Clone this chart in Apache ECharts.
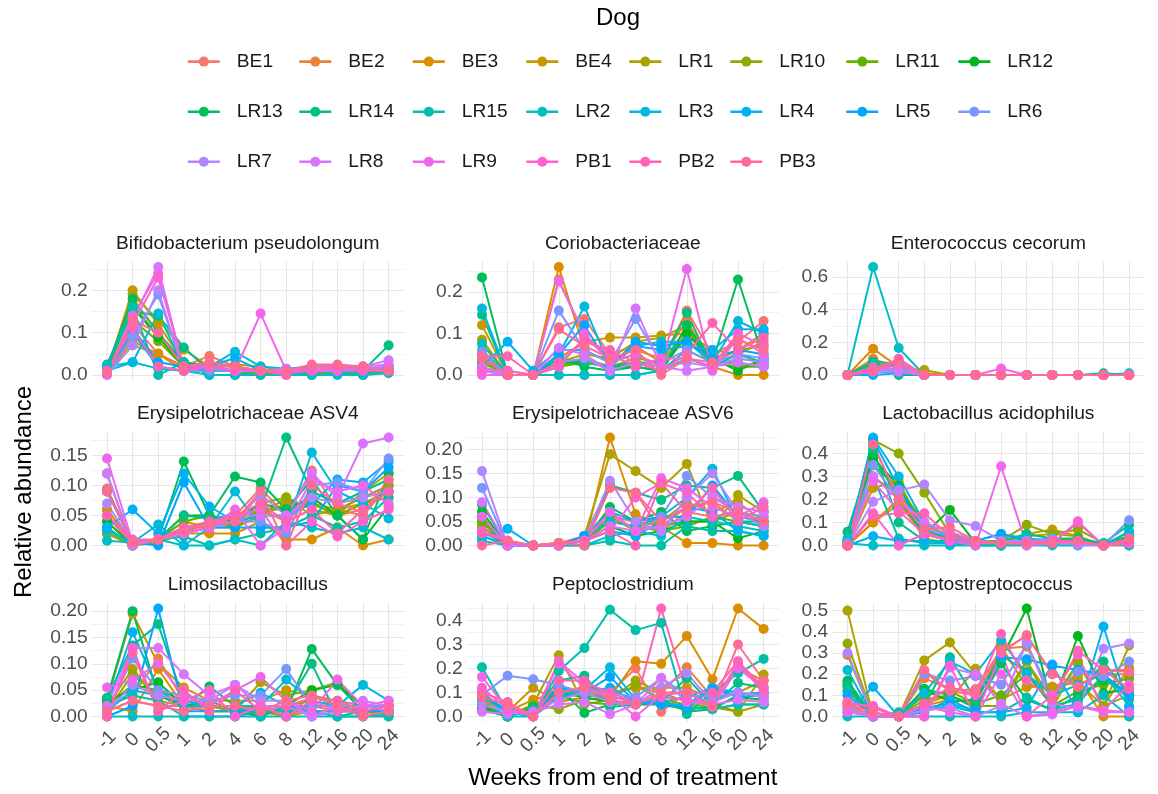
<!DOCTYPE html>
<html>
<head>
<meta charset="utf-8">
<script src="https://cdn.jsdelivr.net/npm/echarts@6/dist/echarts.min.js"></script>
<style>html,body{margin:0;padding:0;background:#fff}#c{width:1158px;height:794px}</style>
</head>
<body>
<div id="c"></div>
<script>
// ---------- data ----------
const categories = ['-1','0','0.5','1','2','4','6','8','12','16','20','24'];
const dogs = ['BE1','BE2','BE3','BE4','LR1','LR10','LR11','LR12','LR13','LR14','LR15','LR2','LR3','LR4','LR5','LR6','LR7','LR8','LR9','PB1','PB2','PB3'];
const facetNames = ['Bifidobacterium pseudolongum','Coriobacteriaceae','Enterococcus cecorum','Erysipelotrichaceae ASV4','Erysipelotrichaceae ASV6','Lactobacillus acidophilus','Limosilactobacillus','Peptoclostridium','Peptostreptococcus'];
const majorSteps = [0.1, 0.1, 0.2, 0.05, 0.05, 0.1, 0.05, 0.1, 0.1];

// rows = dogs (order above), columns = categories
const bifido = [
[0.01,0.12,0.05,0.02,0.045,0.02,0.01,0.01,0.02,0.02,0.01,0.01],
[0.005,0.07,0.05,0.02,0.03,0.02,0.005,0.01,0.01,0.02,0.01,0.01],
[0.005,0.08,0.05,0.01,0.01,0.01,0,0.005,0,0.01,0,0.005],
[0.01,0.2,0.12,0.03,0.02,0.02,0.01,0.01,0.01,0.015,0.01,0.01],
[0.01,0.19,0.13,0.06,0.02,0.025,0.02,0.01,0.01,0.01,0.01,0.01],
[0.01,0.17,0.09,0.03,0.01,0.01,0.01,0.005,0.01,0.01,0.005,0.01],
[0.005,0.13,0.08,0.02,0.01,0.01,0.005,0.005,0.005,0.01,0.005,0.01],
[0.01,0.16,0.09,0.02,0.01,0.01,0.01,0.01,0.01,0.01,0.01,0.01],
[0.02,0.18,0.1,0.03,0.02,0.01,0.01,0.01,0.01,0.01,0.01,0.02],
[0.02,0.15,0.14,0.065,0.01,0.01,0.01,0.01,0.01,0.01,0.01,0.07],
[0.025,0.16,0,0.03,0,0,0.01,0.005,0,0.005,0,0.01],
[0.02,0.03,0.015,0.01,0,0,0,0,0,0,0,0.005],
[0.01,0.03,0.145,0.02,0.02,0.055,0.02,0.015,0.02,0.02,0.015,0.02],
[0.005,0.1,0.02,0.01,0.02,0.04,0.01,0.01,0.01,0.01,0.01,0.02],
[0.005,0.11,0.03,0.02,0.01,0.01,0.01,0.005,0.01,0.01,0.01,0.01],
[0.005,0.09,0.19,0.01,0.01,0.01,0.01,0.01,0.01,0.01,0.01,0.015],
[0,0.07,0.2,0.01,0.02,0.01,0.01,0.01,0.015,0.01,0.02,0.025],
[0,0.13,0.255,0.01,0.02,0.01,0.01,0.015,0.01,0.01,0.02,0.035],
[0.005,0.14,0.24,0.02,0.02,0.01,0.145,0.01,0.01,0.01,0.015,0.02],
[0.005,0.12,0.23,0.02,0.02,0.01,0.01,0.005,0.01,0.02,0.01,0.01],
[0.01,0.11,0.02,0.01,0.02,0.02,0.01,0,0.02,0.02,0.02,0.01],
[0.005,0.13,0.1,0.02,0.03,0.02,0.01,0.01,0.025,0.025,0.02,0.01]
];
const corio = [
[0.05,0,0,0.115,0.135,0.05,0.07,0.03,0.155,0.05,0.08,0.13],
[0.03,0.01,0,0.23,0.09,0.04,0.06,0.04,0.13,0.03,0.06,0.1],
[0.04,0,0,0.26,0.06,0.03,0.05,0.02,0.09,0.02,0,0],
[0.12,0,0,0.04,0.08,0.09,0.09,0.095,0.1,0.06,0.05,0.08],
[0.085,0,0,0.03,0.05,0.04,0.08,0.09,0.12,0.04,0.06,0.07],
[0.06,0,0,0.02,0.04,0.02,0.04,0.03,0.11,0.03,0.02,0.03],
[0.03,0,0,0.02,0.03,0.02,0.03,0.02,0.1,0.03,0.02,0.02],
[0.04,0,0,0.03,0.03,0.02,0.02,0.01,0.1,0.04,0.01,0.04],
[0.235,0,0,0.04,0.02,0.01,0.02,0.01,0.12,0.03,0.23,0.04],
[0.145,0,0,0.04,0.03,0.02,0.03,0.03,0.15,0.02,0.05,0.03],
[0.02,0,0,0,0,0,0,0.01,0.06,0.03,0.03,0.02],
[0.075,0,0,0,0,0,0,0.01,0.04,0.02,0.04,0.03],
[0.16,0,0,0.05,0.165,0.02,0.07,0.08,0.08,0.03,0.13,0.1],
[0.02,0.08,0.01,0.06,0.06,0.03,0.07,0.06,0.07,0.06,0.11,0.11],
[0.01,0,0,0.05,0.12,0.02,0.08,0.07,0.08,0.04,0.06,0.05],
[0.055,0,0,0.155,0.06,0.03,0.135,0.03,0.06,0.03,0.05,0.04],
[0.01,0,0,0.03,0.04,0.01,0.03,0.02,0.03,0.02,0.04,0.03],
[0.02,0,0,0.065,0.05,0.01,0.16,0.02,0.01,0.02,0.03,0.02],
[0,0,0,0.225,0.1,0.03,0.05,0.02,0.255,0.01,0.09,0.05],
[0.01,0.01,0,0.02,0.09,0.05,0.02,0.04,0.04,0.02,0.1,0.07],
[0.045,0.045,0,0.03,0.08,0.06,0.03,0.01,0.05,0.125,0.06,0.09],
[0.04,0,0,0.11,0.07,0.04,0.06,0,0.04,0.03,0.085,0.06]
];
const entero = [
[0,0.05,0.03,0,0,0,0,0,0,0,0,0],
[0,0.1,0.04,0,0,0,0,0,0,0,0,0],
[0,0.16,0.05,0,0,0,0,0,0,0,0,0],
[0,0.04,0.03,0.01,0,0,0,0,0,0,0,0],
[0,0.03,0.04,0.03,0,0,0,0,0,0,0,0],
[0,0.06,0.06,0,0,0,0,0,0,0,0,0],
[0,0.07,0.05,0,0,0,0,0,0,0,0,0],
[0,0.05,0.06,0,0,0,0,0,0,0,0,0],
[0,0.08,0,0,0,0,0,0,0,0,0,0],
[0,0.08,0.07,0,0,0,0,0,0,0,0.01,0],
[0,0.02,0.02,0,0,0,0,0,0,0,0,0],
[0,0.66,0.165,0,0,0,0,0,0,0,0,0.005],
[0,0.02,0.02,0,0,0,0,0,0,0,0,0.01],
[0,0,0.01,0,0,0,0,0,0,0,0,0],
[0,0.04,0.03,0,0,0,0,0,0,0,0,0],
[0,0.05,0.02,0,0,0,0,0,0,0,0,0],
[0,0.03,0.04,0,0,0,0,0,0,0,0,0],
[0,0.02,0.02,0,0,0,0,0,0,0,0,0],
[0,0.03,0.06,0,0,0,0.04,0,0,0,0,0],
[0,0.02,0.1,0,0,0,0,0,0,0,0,0],
[0,0.04,0.09,0,0,0,0,0,0,0,0,0],
[0,0.03,0.08,0,0,0,0,0,0,0,0,0]
];
const asv4 = [
[0.095,0.005,0.01,0.02,0.03,0.05,0.095,0.05,0.125,0.06,0.05,0.1],
[0.06,0.005,0.01,0.03,0.04,0.04,0.06,0.04,0.08,0.05,0.06,0.09],
[0.05,0,0.005,0.02,0.02,0.02,0.04,0.01,0.01,0.03,0,0.01],
[0.06,0.005,0.01,0.04,0.03,0.03,0.05,0.07,0.07,0.06,0.07,0.08],
[0.02,0.005,0.01,0.03,0.03,0.04,0.07,0.08,0.06,0.05,0.09,0.12],
[0.02,0,0.01,0.02,0.04,0.03,0.05,0.08,0.05,0.06,0.08,0.1],
[0.03,0,0.01,0.04,0.05,0.03,0.06,0.06,0.07,0.05,0.07,0.09],
[0.04,0,0.01,0.05,0.05,0.04,0.07,0.06,0.08,0.05,0.01,0.065],
[0.12,0,0.01,0.14,0.05,0.115,0.105,0.06,0.11,0.05,0.01,0.12],
[0.09,0.005,0.01,0.05,0.045,0.05,0.06,0.18,0.09,0.07,0.09,0.11],
[0.03,0,0.01,0.015,0,0.01,0.02,0.03,0.05,0.03,0.04,0.08],
[0.008,0.005,0.01,0,0,0.01,0,0.04,0.03,0.02,0.03,0.01],
[0.025,0.005,0.035,0,0.03,0.09,0.03,0.03,0.155,0.09,0.07,0.045],
[0.03,0.06,0.02,0.12,0.065,0.04,0.05,0.05,0.07,0.11,0.105,0.14],
[0.09,0.005,0,0.105,0.03,0.03,0.03,0.03,0.04,0.1,0.09,0.13],
[0.05,0.005,0.01,0.02,0.03,0.04,0.04,0.02,0.1,0.105,0.09,0.145],
[0.07,0.005,0.01,0.02,0.03,0.04,0.085,0.05,0.08,0.07,0.08,0.09],
[0.12,0,0.01,0.02,0.03,0.05,0.05,0.05,0.12,0.08,0.17,0.18],
[0.145,0.005,0.01,0.02,0.03,0.06,0,0.03,0.11,0.09,0.1,0.07],
[0.05,0.005,0.01,0.03,0.035,0.05,0.06,0,0.04,0.015,0.04,0.06],
[0.05,0.01,0.01,0.025,0.04,0.05,0.07,0.04,0.06,0.02,0.06,0.09],
[0.09,0.005,0.01,0.025,0.035,0.04,0.09,0,0.1,0.07,0.055,0.11]
];
const asv6 = [
[0.03,0.005,0,0.005,0.02,0.125,0.11,0.03,0.07,0.06,0.07,0.05],
[0.04,0,0,0,0.01,0.06,0.05,0.04,0.08,0.09,0.05,0.04],
[0.055,0,0,0.005,0,0.225,0.065,0.04,0.005,0.005,0,0],
[0.05,0,0,0,0.01,0.05,0.04,0.05,0.09,0.07,0.09,0.05],
[0.03,0,0,0,0.02,0.19,0.155,0.12,0.17,0.04,0.105,0.07],
[0.04,0,0,0.005,0.01,0.06,0.03,0.04,0.05,0.05,0.07,0.06],
[0.05,0,0,0,0.01,0.05,0.04,0.03,0.04,0.06,0.05,0.04],
[0.07,0,0,0,0.01,0.04,0.02,0.03,0.05,0.05,0.015,0.03],
[0.085,0,0,0,0.01,0.08,0.05,0.07,0.03,0.04,0.05,0.05],
[0.06,0,0,0,0.01,0.125,0.11,0.095,0.125,0.12,0.145,0.07],
[0.02,0,0,0,0,0.01,0,0,0.04,0.03,0.03,0.02],
[0.02,0,0,0,0,0.02,0.03,0.02,0.06,0.05,0.04,0.03],
[0.01,0,0,0,0.02,0.05,0.04,0.06,0.1,0.16,0.05,0.04],
[0.02,0.035,0,0,0.01,0.03,0.02,0.05,0.08,0.07,0.03,0.02],
[0.03,0,0,0,0.02,0.07,0.05,0.06,0.06,0.125,0.06,0.05],
[0.12,0,0,0,0.01,0.07,0.03,0.06,0.145,0.1,0.07,0.06],
[0.155,0,0,0,0.01,0.135,0.05,0.03,0.1,0.15,0.07,0.04],
[0.09,0,0,0,0.01,0.04,0.03,0.04,0.06,0.1,0.08,0.07],
[0.06,0,0,0,0.01,0.07,0.03,0.14,0.12,0.08,0.06,0.09],
[0.03,0.01,0,0,0.01,0.03,0.1,0.13,0.11,0.06,0.07,0.05],
[0.025,0.01,0,0.005,0.01,0.03,0,0.13,0.07,0.12,0.05,0.08],
[0,0.01,0,0.005,0,0.12,0.11,0.05,0.08,0.09,0.07,0.05]
];
const lacto = [
[0.01,0.44,0.2,0.08,0.04,0.02,0.01,0.02,0.03,0.02,0,0.02],
[0,0.1,0.18,0.05,0.02,0.02,0.01,0.01,0.02,0.02,0,0.01],
[0,0.1,0.2,0.03,0.01,0.01,0,0.01,0.01,0.01,0,0],
[0,0.25,0.28,0.06,0.03,0.02,0.01,0.05,0.07,0.04,0,0.02],
[0,0.3,0.22,0.1,0.04,0.02,0.02,0.04,0.05,0.04,0,0.03],
[0.02,0.46,0.4,0.23,0.05,0.02,0.02,0.09,0.05,0.07,0.01,0.04],
[0.01,0.35,0.25,0.1,0.03,0.01,0.01,0.03,0.02,0.03,0,0.03],
[0.01,0.38,0.26,0.05,0.155,0.01,0.01,0.02,0.02,0.02,0,0.02],
[0.02,0.4,0.2,0.05,0.02,0.01,0,0.02,0.02,0.02,0,0.04],
[0.06,0.42,0.1,0.02,0.02,0.01,0.02,0.05,0.03,0.03,0.01,0.09],
[0.03,0.3,0.03,0.01,0.01,0,0,0.01,0.01,0.01,0,0.06],
[0.01,0,0,0,0,0,0,0,0,0,0.01,0],
[0.02,0.47,0.3,0.1,0.03,0.02,0.05,0.03,0.02,0.02,0,0.06],
[0,0.04,0.02,0.02,0.01,0.01,0.01,0.01,0.01,0.01,0,0.01],
[0.01,0.46,0.25,0.07,0.03,0.02,0.05,0.02,0.02,0.02,0,0.03],
[0.01,0.35,0.2,0.1,0.03,0.02,0.01,0.02,0.03,0,0,0.11],
[0,0.19,0.24,0.265,0.11,0.085,0.02,0.02,0.02,0.01,0,0.03],
[0,0.3,0.2,0.1,0.06,0.02,0.01,0.01,0.01,0.01,0,0.02],
[0,0.28,0.15,0.05,0.02,0,0.345,0,0.01,0.105,0,0.01],
[0,0.14,0,0.05,0.02,0.01,0.01,0.01,0.01,0.1,0,0.01],
[0,0.13,0.14,0.14,0.04,0.02,0.01,0.01,0.02,0.02,0,0.02],
[0,0.44,0.2,0.07,0.08,0.02,0.01,0.01,0.01,0.02,0,0.03]
];
const limosi = [
[0.01,0.03,0.02,0.02,0.01,0.01,0.02,0,0.04,0.02,0,0.01],
[0.02,0.04,0.11,0.03,0.02,0.01,0.01,0,0.02,0.01,0.01,0.02],
[0.02,0.01,0.09,0.02,0.01,0.01,0.01,0,0.01,0.01,0.01,0],
[0.03,0.195,0.1,0.055,0.03,0.03,0.03,0.05,0.04,0.03,0.02,0.02],
[0.02,0.09,0.03,0.02,0.02,0.01,0.065,0.04,0.05,0.065,0.02,0.02],
[0.01,0.08,0.04,0.02,0.02,0.01,0.02,0.02,0.03,0.02,0.01,0.01],
[0.02,0.06,0.05,0.03,0.02,0.02,0.01,0.01,0.02,0.02,0.01,0.01],
[0.03,0.05,0.065,0.02,0.03,0.01,0,0.02,0.05,0.06,0.02,0.01],
[0.035,0.2,0.04,0.02,0.057,0.02,0.01,0.01,0.128,0.06,0.01,0.01],
[0.035,0.135,0.175,0.03,0.02,0.02,0,0.02,0.1,0,0.01,0.01],
[0.02,0.04,0.03,0,0,0,0.01,0.01,0.01,0,0,0],
[0,0,0,0,0,0,0,0,0,0,0,0.005],
[0.01,0.05,0.04,0.03,0.02,0.02,0.02,0.07,0.03,0.02,0.06,0.03],
[0.02,0.16,0.05,0.02,0.02,0.02,0.045,0.02,0.02,0.02,0.02,0.02],
[0,0.02,0.205,0.01,0.01,0.01,0.01,0.02,0.01,0.01,0.01,0.01],
[0.01,0.11,0.05,0.04,0.03,0.04,0.04,0.09,0.02,0.02,0.02,0.02],
[0.01,0.06,0.04,0.03,0.03,0.06,0.03,0.03,0,0.01,0.02,0.01],
[0.02,0.13,0.13,0.08,0.04,0.06,0.02,0.02,0,0.02,0.03,0.02],
[0.055,0.07,0.1,0.04,0.02,0.05,0.075,0.03,0.01,0.07,0.02,0.03],
[0,0.13,0.01,0.03,0.05,0,0.02,0,0.03,0.01,0.01,0.02],
[0,0.12,0.01,0.05,0.01,0.05,0.01,0.02,0.035,0.03,0.01,0.02],
[0.01,0.03,0.02,0.01,0.02,0.02,0.01,0.03,0.04,0.02,0,0.01]
];
const peptoclos = [
[0.05,0.02,0.01,0.1,0.12,0.1,0.2,0.02,0.1,0.05,0.22,0.12],
[0.06,0.03,0.02,0.08,0.13,0.1,0.12,0.1,0.205,0.08,0.2,0.15],
[0.07,0.02,0.07,0.1,0.1,0.08,0.23,0.22,0.335,0.155,0.45,0.365],
[0.1,0.02,0.12,0.06,0.08,0.1,0.12,0.12,0.12,0.07,0.1,0.15],
[0.04,0,0.05,0.255,0.05,0.07,0.15,0.1,0.06,0.05,0.02,0.175],
[0.03,0,0.05,0.03,0.07,0.08,0.13,0.07,0.05,0.04,0.02,0.05],
[0.05,0,0.04,0.08,0.06,0.05,0.07,0.06,0.04,0.03,0.05,0.05],
[0.04,0,0.03,0.1,0.08,0.06,0.05,0.05,0.03,0.04,0.08,0.07],
[0.03,0,0.04,0.12,0.015,0.05,0.06,0.07,0.02,0.03,0.09,0.1],
[0.06,0,0.03,0.15,0.17,0.04,0.05,0.06,0.16,0.05,0.14,0.12],
[0.205,0.02,0,0.19,0.285,0.445,0.36,0.39,0.01,0.1,0.18,0.24],
[0.06,0,0,0.1,0.09,0.08,0.07,0.05,0.04,0.03,0.05,0.05],
[0.09,0.01,0.01,0.1,0.11,0.205,0.07,0.06,0.08,0.12,0.1,0.08],
[0.1,0.02,0,0.08,0.1,0.12,0.06,0.05,0.05,0.12,0.08,0.09],
[0.08,0.03,0.01,0.12,0.1,0.165,0.06,0.05,0.04,0.11,0.09,0.1],
[0.09,0.17,0.155,0.13,0.1,0.1,0.08,0.16,0.09,0.08,0.1,0.09],
[0.05,0.02,0.02,0.07,0.1,0.06,0.05,0.12,0.18,0.06,0.1,0.08],
[0.02,0.01,0.02,0.05,0.06,0.01,0.05,0.16,0.06,0.05,0.07,0.06],
[0.165,0.03,0,0.22,0.12,0.09,0,0.09,0.1,0.04,0.2,0.12],
[0.12,0.03,0,0.23,0.14,0.1,0.06,0.08,0.07,0.05,0.225,0.1],
[0.1,0.06,0,0.15,0.15,0.09,0.05,0.45,0.1,0.1,0.23,0.12],
[0.08,0.05,0,0.1,0.12,0.07,0.05,0.1,0.1,0.04,0.3,0.15]
];
const peptostrep = [
[0.06,0,0,0.21,0.12,0.1,0.3,0.385,0.2,0.15,0.2,0.2],
[0.05,0,0,0.18,0.13,0.12,0.32,0.33,0.1,0.2,0.22,0.22],
[0.29,0,0,0.06,0.1,0.05,0.33,0.14,0.14,0.18,0,0],
[0.12,0,0,0.05,0.08,0.225,0.08,0.14,0.14,0.16,0.05,0.23],
[0.5,0,0,0.265,0.35,0.2,0.08,0.26,0.08,0.25,0.05,0.335],
[0.345,0,0,0.08,0.1,0.05,0.05,0.26,0.04,0.26,0.05,0.1],
[0.16,0,0,0.1,0.12,0.06,0.1,0.2,0.05,0.12,0.15,0.18],
[0.14,0,0,0.13,0.07,0.08,0.27,0.51,0.05,0.38,0.11,0.13],
[0.17,0,0,0.13,0.1,0.04,0.25,0.08,0.03,0.1,0.17,0.12],
[0.15,0,0,0.05,0.28,0.08,0.29,0.21,0.05,0.08,0.26,0.1],
[0.12,0,0.02,0.03,0.05,0.02,0.02,0.09,0.03,0.06,0.2,0.08],
[0,0,0,0,0,0,0,0.02,0.02,0.02,0.1,0],
[0.22,0,0,0.11,0.26,0.2,0.36,0.2,0.1,0.15,0.2,0.05],
[0.02,0.14,0,0.02,0.08,0.02,0.02,0.04,0.245,0.02,0.425,0.04],
[0.1,0,0,0.04,0.06,0.03,0.28,0.27,0.24,0.22,0.2,0.1],
[0.03,0,0,0.2,0.17,0.19,0.15,0.34,0.1,0.21,0.19,0.26],
[0.3,0,0,0.03,0.04,0,0.05,0.35,0.06,0.04,0.32,0.345],
[0.04,0,0,0,0.23,0.2,0.06,0,0.01,0.05,0.02,0.02],
[0.02,0,0,0.05,0.02,0,0.2,0,0.02,0.05,0.03,0.02],
[0.06,0.05,0,0,0.24,0,0.3,0,0.1,0.29,0.03,0.15],
[0.07,0.04,0,0.06,0.14,0.1,0.39,0.17,0.08,0.31,0.22,0.13],
[0.06,0.02,0,0.22,0.12,0.13,0.31,0.38,0.2,0.14,0.22,0.21]
];
const facets = [bifido, corio, entero, asv4, asv6, lacto, limosi, peptoclos, peptostrep];

// legend columns (ggplot fills 3 rows by row)
const legendCols = [['BE1','LR13','LR7'],['BE2','LR14','LR8'],['BE3','LR15','LR9'],['BE4','LR2','PB1'],['LR1','LR3','PB2'],['LR10','LR4','PB3'],['LR11','LR5'],['LR12','LR6']];

// ---------- style / layout ----------
const FONT = '"Liberation Sans", Arial, sans-serif';
function hcl2hex(h, c, l) {
  const hr = h * Math.PI / 180;
  const U = c * Math.cos(hr), V = c * Math.sin(hr);
  const Xn = 95.047, Yn = 100.0, Zn = 108.883;
  const Y = Yn * Math.pow((l + 16) / 116, 3);
  const den = Xn + 15 * Yn + 3 * Zn;
  const un = 4 * Xn / den, vn = 9 * Yn / den;
  const u = U / (13 * l) + un, v = V / (13 * l) + vn;
  const X = 9 * Y * u / (4 * v);
  const Z = -X / 3 - 5 * Y + 3 * Y / v;
  const x = X / 100, y = Y / 100, z = Z / 100;
  const lin = [3.240479*x - 1.537150*y - 0.498535*z, -0.969256*x + 1.875992*y + 0.041556*z, 0.055648*x - 0.204043*y + 1.057311*z];
  return '#' + lin.map(t => {
    let s = t <= 0.0031308 ? 12.92 * t : 1.055 * Math.pow(t, 1 / 2.4) - 0.055;
    s = Math.max(0, Math.min(1, s));
    return Math.round(s * 255).toString(16).padStart(2, '0');
  }).join('');
}
const colors = dogs.map((d, i) => hcl2hex(15 + i * 360 / dogs.length, 100, 65));

const colFirst = [107, 482, 847.5];
const U = 25.6;
const rowZero = [375, 545.5, 716.5];
const D = 108;
const legendX = [186.5, 298, 411.5, 525, 628, 729, 845, 957];

const grids = [], xAxes = [], yAxes = [], series = [], graphics = [];
facets.forEach((fd, f) => {
  const col = f % 3, row = Math.floor(f / 3);
  const x0 = colFirst[col], zero = rowZero[row];
  let R = 0; fd.forEach(r => r.forEach(v => { if (v > R) R = v; }));
  const top = 1.05 * R;
  const pTop = zero - 1.05 * D, pBot = zero + 0.05 * D;
  const major = majorSteps[f], minor = major / 2;
  const dec = major < 0.1 ? 2 : 1;
  // data grid
  grids[f] = { left: x0, top: pTop, width: 11 * U, height: pBot - pTop };
  // background grid for horizontal gridlines + y labels
  grids[9 + f] = { left: x0 - 0.6 * U, top: pTop, width: 12.2 * U, height: zero - pTop };
  xAxes[f] = {
    type: 'category', gridIndex: f, data: categories, boundaryGap: false,
    axisLine: { show: false }, axisTick: { show: false },
    splitLine: { show: true, lineStyle: { color: '#e6e6e6', width: 1.1 } },
    axisLabel: row === 2 ? { show: true, interval: 0, rotate: 45, align: 'center', verticalAlign: 'middle', margin: 18, fontSize: 19.2, color: '#4d4d4d', fontFamily: FONT } : { show: false }
  };
  xAxes[9 + f] = { type: 'value', gridIndex: 9 + f, show: false, min: 0, max: 1 };
  yAxes[f] = { type: 'value', gridIndex: f, show: false, min: -0.05 * R, max: top, splitLine: { show: false } };
  const n = Math.floor(top / minor + 1e-9);
  const lineColors = [];
  for (let i = 0; i <= n; i++) lineColors.push(i % 2 === 0 ? '#e6e6e6' : '#f1f1f1');
  lineColors.push('rgba(0,0,0,0)');
  yAxes[9 + f] = {
    type: 'value', gridIndex: 9 + f, min: 0, max: top, interval: minor,
    axisLine: { show: false }, axisTick: { show: false },
    splitLine: { show: true, showMaxLine: false, lineStyle: { color: lineColors, width: 1.1 } },
    axisLabel: {
      showMaxLabel: false, margin: 4, fontSize: 19.2, color: '#4d4d4d', fontFamily: FONT,
      formatter: v => {
        const k = v / major;
        if (Math.abs(k - Math.round(k)) < 1e-6 && v < top - 1e-9) return v.toFixed(dec);
        return '';
      }
    }
  };
  fd.forEach((vals, d) => {
    series.push({
      type: 'line', name: dogs[d], xAxisIndex: f, yAxisIndex: f, data: vals,
      symbol: 'circle', showSymbol: false, silent: true, animation: false, clip: false, z: 2,
      lineStyle: { width: 2, color: colors[d] }, itemStyle: { color: colors[d] }
    });
  });
  fd.forEach((vals, d) => {
    series.push({
      type: 'scatter', name: dogs[d], xAxisIndex: f, yAxisIndex: f, data: vals,
      symbol: 'circle', symbolSize: 10, silent: true, animation: false, clip: false, z: 3,
      itemStyle: { color: colors[d], opacity: 1 }
    });
  });
  graphics.push({
    type: 'text', x: x0 + 5.5 * U, y: pTop - 18, silent: true,
    style: { text: facetNames[f], fill: '#1a1a1a', font: '19.2px ' + FONT, textAlign: 'center', textVerticalAlign: 'middle' }
  });
});

graphics.push({ type: 'text', x: 618, y: 18, silent: true,
  style: { text: 'Dog', fill: '#000', font: '24px ' + FONT, textAlign: 'center', textVerticalAlign: 'middle' } });
graphics.push({ type: 'text', x: colFirst[1] + 5.5 * U, y: 778, silent: true,
  style: { text: 'Weeks from end of treatment', fill: '#000', font: '24px ' + FONT, textAlign: 'center', textVerticalAlign: 'middle' } });
graphics.push({ type: 'text', x: 24, y: 492, rotation: Math.PI / 2, silent: true,
  style: { text: 'Relative abundance', fill: '#000', font: '24px ' + FONT, textAlign: 'center', textVerticalAlign: 'middle' } });

const legends = legendCols.map((names, i) => ({
  orient: 'vertical', left: legendX[i], top: 52.1, padding: 0,
  itemWidth: 32, itemHeight: 12.5, itemGap: 31.1,
  lineStyle: { width: 2.6 },
  data: names,
  textStyle: { fontSize: 19.2, color: '#1a1a1a', fontFamily: FONT, padding: [0, 0, 0, 12] }
}));

const chart = echarts.init(document.getElementById('c'), null, { renderer: 'canvas', width: 1158, height: 794 });
chart.setOption({
  backgroundColor: '#ffffff',
  animation: false,
  textStyle: { fontFamily: FONT },
  grid: grids, xAxis: xAxes, yAxis: yAxes,
  legend: legends,
  series: series,
  graphic: graphics
});
</script>
</body>
</html>
